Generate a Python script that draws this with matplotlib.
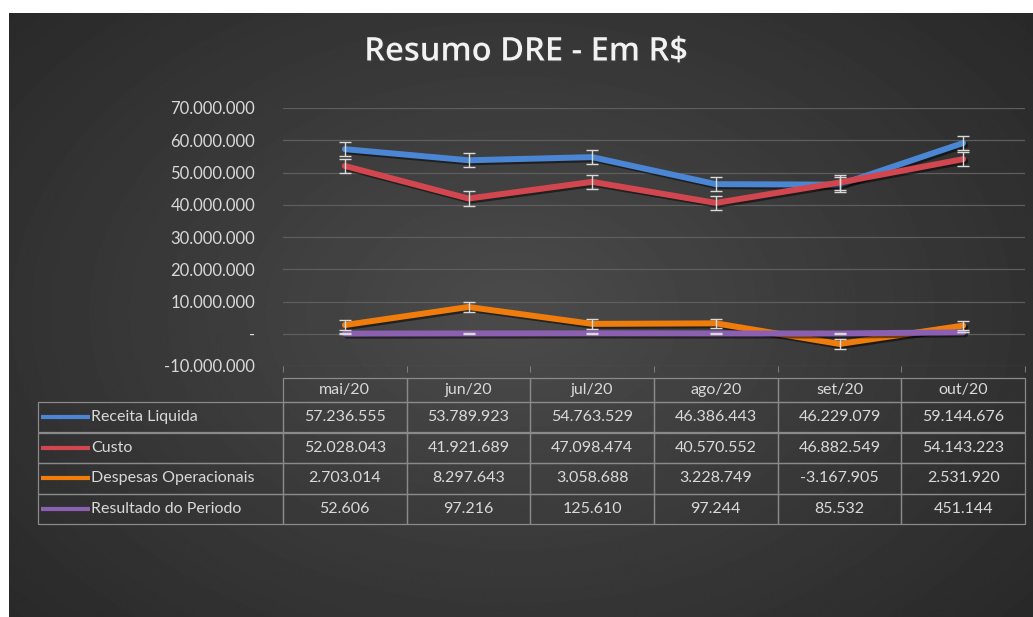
"""Resumo DRE (mai/20 a out/20) em linhas com tabela de dados embaixo."""
import matplotlib
matplotlib.use("Agg")
import matplotlib.pyplot as plt
import matplotlib.patheffects as pe
from matplotlib.table import Table
import numpy as np

meses = ["mai/20", "jun/20", "jul/20", "ago/20", "set/20", "out/20"]
receita = [57236555, 53789923, 54763529, 46386443, 46229079, 59144676]
custo = [52028043, 41921689, 47098474, 40570552, 46882549, 54143223]
despesas = [2703014, 8297643, 3058688, 3228749, -3167905, 2531920]
resultado = [52606, 97216, 125610, 97244, 85532, 451144]
# barras de erro (erro padrão)
erro = [2230000, 2190000, 1480000, 61000]
nomes = ["Receita Liquida", "Custo", "Despesas Operacionais", "Resultado do Periodo"]
cores = ["#4a86d4", "#d2474f", "#f07c0c", "#8c60b0"]
yticks = [-10000000, 0, 10000000, 20000000, 30000000, 40000000, 50000000, 60000000, 70000000]

W, H = 1033, 617
AX_L, AX_R, AX_T, AX_B = 283, 1025, 108, 366
TXT = "#d9d9d9"
FONT = ["Lato", "DejaVu Sans"]


def fmt(v):
    if v == 0:
        return "-"
    return f"{v:,.0f}".replace(",", ".")


def px_x(x):
    return (x - AX_L) / (AX_R - AX_L)


def px_y(y):
    return (AX_B - y) / (AX_B - AX_T)


fig = plt.figure(figsize=(W / 100, H / 100), dpi=100)
fig.patch.set_facecolor("white")

# fundo escuro com gradiente radial
bg = fig.add_axes([9 / W, -0.01, 1.02 - 9 / W, 1.01 - 13 / H])
gy, gx = np.mgrid[0:610, 0:1040]
r = np.sqrt(((gx - 500) / 650) ** 2 + ((gy - 300) / 450) ** 2)
bg.imshow(0.295 - 0.13 * r, cmap="gray", vmin=0, vmax=1, aspect="auto")
bg.axis("off")

ax = fig.add_axes([AX_L / W, 1 - AX_B / H, (AX_R - AX_L) / W, (AX_B - AX_T) / H])
ax.set_facecolor("none")

x = np.arange(len(meses))
series = [receita, custo, despesas, resultado]
sombra = [pe.SimpleLineShadow(offset=(1.5, -1.5), shadow_color="black", alpha=0.5), pe.Normal()]
for vals, cor, e in zip(series, cores, erro):
    ax.plot(x, vals, color=cor, lw=4.3, solid_capstyle="round", zorder=3, path_effects=sombra)
    ax.errorbar(x, vals, yerr=e, fmt="none", ecolor=TXT, elinewidth=1, capsize=4,
                capthick=1, zorder=4)

ax.set_xlim(-0.5, len(meses) - 0.5)
ax.set_ylim(-10000000, 70000000)
ax.set_yticks(yticks)
ax.set_yticklabels([fmt(v) for v in yticks], color=TXT, fontsize=12, family=FONT)
ax.set_xticks([])
ax.set_xticks(np.arange(len(meses) + 1) - 0.5, minor=True)
ax.tick_params(axis="y", length=0, pad=20)
ax.tick_params(axis="x", which="minor", length=4, color="#8a8a8a")
ax.grid(axis="y", color="#5e5e5e", lw=0.9)
ax.set_axisbelow(True)
for s in ax.spines.values():
    s.set_visible(False)

fig.text(526 / W, 1 - 52 / H, "Resumo DRE - Em R$", ha="center", va="center",
         color="#f2f2f2", fontsize=23.5, fontweight="semibold",
         family=["Open Sans", "DejaVu Sans"],
         path_effects=[pe.withSimplePatchShadow(offset=(1, -1), alpha=0.4)])

# tabela de dados
TAB_L, TAB_T, HDR_H, ROW_H = 38, 378, 24, 30.5
col_w = (AX_R - AX_L) / len(meses)
lab_w = AX_L - TAB_L
tab_h = HDR_H + ROW_H * len(nomes)
tbl = Table(ax, bbox=[px_x(TAB_L), px_y(TAB_T + tab_h), (AX_R - TAB_L) / (AX_R - AX_L),
                      tab_h / (AX_B - AX_T)])
tbl.auto_set_font_size(False)
cells = []
for j, mes in enumerate(meses):
    cells.append(tbl.add_cell(0, j + 1, width=col_w, height=HDR_H, text=mes, loc="center"))
for i, (nome, vals) in enumerate(zip(nomes, series)):
    c = tbl.add_cell(i + 1, 0, width=lab_w, height=ROW_H, text=nome, loc="left")
    c.PAD = 53 / lab_w
    cells.append(c)
    for j, v in enumerate(vals):
        cells.append(tbl.add_cell(i + 1, j + 1, width=col_w, height=ROW_H, text=fmt(v),
                                  loc="center"))
for c in cells:
    c.set_facecolor("none")
    c.set_edgecolor("#8a8a8a")
    c.set_linewidth(0.9)
    c.set_text_props(color=TXT, fontsize=11.5, family=FONT)
ax.add_table(tbl)

# chaves de legenda nas linhas da tabela
for i, cor in enumerate(cores):
    yc = px_y(TAB_T + HDR_H + ROW_H * (i + 0.5))
    ax.plot([px_x(41), px_x(90)], [yc, yc], color=cor, lw=3, transform=ax.transAxes,
            clip_on=False, solid_capstyle="butt")

fig.savefig("out.png", dpi=100, facecolor=fig.get_facecolor())
